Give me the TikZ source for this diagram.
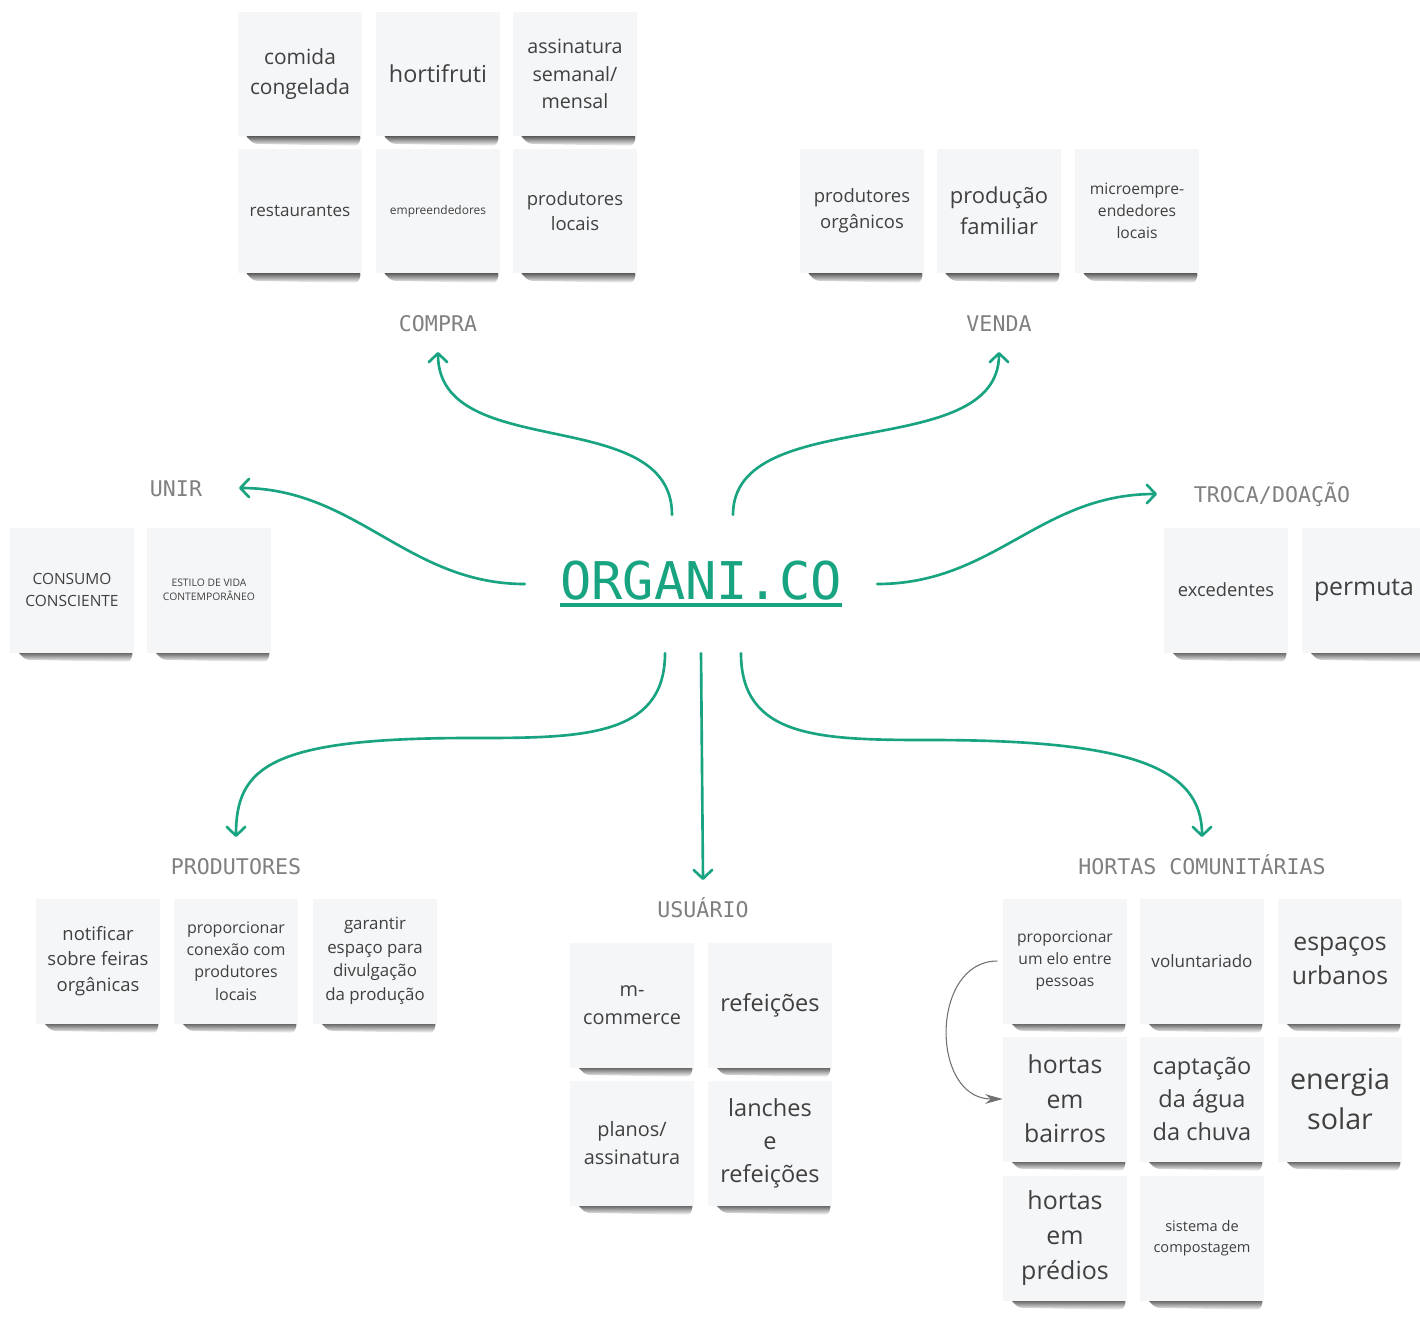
\documentclass[tikz,border=0pt]{standalone}
\usepackage{fontspec}
\setmainfont{Open Sans}
\newfontfamily\monofont{DejaVu Sans Mono}
\usepackage{xcolor}
\usetikzlibrary{arrows.meta,calc,fadings,backgrounds}

\definecolor{organigreen}{RGB}{24,164,128}
\definecolor{notefill}{RGB}{245,246,248}
\definecolor{notetext}{RGB}{64,64,64}
\definecolor{labelgray}{RGB}{128,128,128}
\definecolor{linkgray}{RGB}{112,112,112}
\definecolor{shadowgray}{RGB}{70,70,70}

\newcommand{\notesize}[1]{\fontsize{#1}{\fpeval{1.4*#1}}\selectfont}
\newcommand{\hubtext}[1]{\setbox0=\hbox{#1}\rlap{\rule[-4pt]{\wd0}{2pt}}\box0}

\tikzset{
  note/.style={fill=notefill, text=notetext, minimum width=2.48cm, minimum height=2.5cm,
    inner sep=0pt, align=center},
  noteshadow/.style={fill=shadowgray, path fading=south, rounded corners=2pt},
  branch/.style={font=\monofont\fontsize{12.3}{14}\selectfont, text=labelgray, inner sep=0pt,
    text height=0.32cm, text depth=0cm, outer xsep=0.74cm, outer ysep=0.42cm},
  hub/.style={font=\monofont\fontsize{29.6}{34}\selectfont, text=organigreen,
    inner xsep=0.7cm, inner ysep=0.92cm},
  link/.style={draw=organigreen, line width=1.5pt, line cap=round,
    -{Straight Barb[length=5pt,width=10.5pt,round]}},
  notelink/.style={draw=linkgray, line width=0.6pt, shorten <=3pt,
    -{Stealth[length=10pt,width=5.5pt]}}
}

\begin{document}
\begin{tikzpicture}[x=0.02cm, y=-0.02cm]
\useasboundingbox (0,0) rectangle (1420,1316);

% Centre
\node[hub] (hub) at (701,584) {\hubtext{ORGANI.CO}};

% Branch labels
\node[branch] (compra) at (438,323) {COMPRA};
\node[branch] (venda) at (999,323) {VENDA};
\node[branch] (unir) at (176,488) {UNIR};
\node[branch] (troca) at (1272,494) {TROCA/DOAÇÃO};
\node[branch] (produtores) at (236,866) {PRODUTORES};
\node[branch] (usuario) at (703,909) {USUÁRIO};
\node[branch] (hortas) at (1202,866) {HORTAS COMUNITÁRIAS};

% Compra
\node[note, font=\notesize{11.9}] (congelada) at (300,74) {comida\\congelada};
\node[note, font=\notesize{13.3}] (hortifruti) at (438,74) {hortifruti};
\node[note, font=\notesize{11.2}] (assinatura) at (575,74) {assinatura\\semanal/\\mensal};
\node[note, font=\notesize{9.7}] (restaurantes) at (300,211) {restaurantes};
\node[note, font=\notesize{6.8}] (empreendedores) at (438,211) {empreendedores};
\node[note, font=\notesize{10.5}] (prodlocais) at (575,211) {produtores\\locais};

% Venda
\node[note, font=\notesize{10.5}] (organicos) at (862,211) {produtores\\orgânicos};
\node[note, font=\notesize{12.5}] (familiar) at (999,211) {produção\\familiar};
\node[note, font=\notesize{8.9}] (micro) at (1137,211) {microempre-\\endedores\\locais};

% Unir
\node[note, font=\notesize{8.8}] (consumo) at (72,590) {CONSUMO\\CONSCIENTE};
\node[note, font=\notesize{5.9}] (estilo) at (209,590) {ESTILO DE VIDA\\CONTEMPORÂNEO};

% Troca/doacao
\node[note, font=\notesize{10.4}] (excedentes) at (1226,590) {excedentes};
\node[note, font=\notesize{14.1}] (permuta) at (1364,590) {permuta};

% Produtores
\node[note, font=\notesize{10.5}] (feiras) at (98,961) {notificar\\sobre feiras\\orgânicas};
\node[note, font=\notesize{9.1}] (conexao) at (236,961) {proporcionar\\conexão com\\produtores\\locais};
\node[note, font=\notesize{9.6}] (divulgacao) at (375,961) {garantir\\espaço para\\divulgação\\da produção};

% Usuario
\node[note, font=\notesize{11.3}] (mcommerce) at (632,1005) {m-\\commerce};
\node[note, font=\notesize{13.4}] (refeicoes) at (770,1005) {refeições};
\node[note, font=\notesize{11.3}] (planos) at (632,1143) {planos/\\assinatura};
\node[note, font=\notesize{13.4}] (lanches) at (770,1143) {lanches\\e\\refeições};

% Hortas comunitarias
\node[note, font=\notesize{8.9}] (elo) at (1065,961) {proporcionar\\um elo entre\\pessoas};
\node[note, font=\notesize{9.7}] (voluntariado) at (1202,961) {voluntariado};
\node[note, font=\notesize{14.1}] (urbanos) at (1340,961) {espaços\\urbanos};
\node[note, font=\notesize{14.1}] (bairros) at (1065,1099) {hortas\\em\\bairros};
\node[note, font=\notesize{13.4}] (chuva) at (1202,1099) {captação\\da água\\da chuva};
\node[note, font=\notesize{16.3}] (solar) at (1340,1099) {energia\\solar};
\node[note, font=\notesize{14.2}] (predios) at (1065,1238) {hortas\\em\\prédios};
\node[note, font=\notesize{8.3}] (compostagem) at (1202,1238) {sistema de\\compostagem};

% Shadows under the notes
\begin{pgfonlayer}{background}
\fill[white] (0,0) rectangle (1420,1316);
\foreach \n in {congelada,hortifruti,assinatura,restaurantes,empreendedores,prodlocais,
    organicos,familiar,micro,consumo,estilo,excedentes,permuta,feiras,conexao,divulgacao,
    mcommerce,refeicoes,planos,lanches,elo,voluntariado,urbanos,bairros,chuva,solar,
    predios,compostagem}
  \fill[noteshadow] ($(\n.south west)+(7,-2)$) -- ($(\n.south east)+(-1,-2)$)
    -- ($(\n.south east)+(-4,9)$) -- ($(\n.south west)+(16,7)$) -- cycle;
\end{pgfonlayer}

% Branches out of the centre
\coordinate (pbend) at (470,738);
\coordinate (hbend) at (930,740);
\draw[link] ([xshift=-0.58cm]hub.north) .. controls +(0,-112) and +(0,112) .. (compra.south);
\draw[link] ([xshift=0.64cm]hub.north) .. controls +(0,-112) and +(0,112) .. (venda.south);
\draw[link] (hub.west) .. controls +(-117,0) and +(117,0) .. (unir.east);
\draw[link] (hub.east) .. controls +(117,0) and +(-117,0) .. (troca.west);
\draw[link] ([xshift=-0.72cm]hub.south) .. controls +(0,85) and +(110,0) .. (pbend)
  .. controls +(-200,0) and +(0,-70) .. (produtores.north);
\draw[link] (hub.south) -- (usuario.north);
\draw[link] ([xshift=0.8cm]hub.south) .. controls +(0,85) and +(-110,0) .. (hbend)
  .. controls +(200,0) and +(0,-70) .. (hortas.north);

% elo -> hortas em bairros
\draw[notelink] (elo.west) to[out=180,in=180,looseness=1.35] (bairros.west);

\end{tikzpicture}
\end{document}
